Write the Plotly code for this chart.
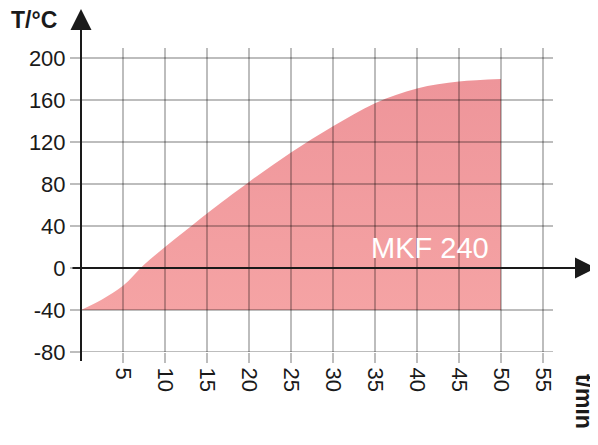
import plotly.graph_objects as go

# heating curve
time_min = [0, 2.5, 5, 7.5, 10, 12.5, 15, 20, 25, 30, 35, 40, 45, 50]
temp_c = [-40, -30, -17, 3, 20, 36, 52, 82, 110, 135, 157, 171, 177.5, 180]
base_c = [-40] * len(time_min)

x_ticks = [5, 10, 15, 20, 25, 30, 35, 40, 45, 50, 55]
y_ticks = [-80, -40, 0, 40, 80, 120, 160, 200]
y_labels = ["-80", "-40", "0", "40", "80", "120", "160", "200"]
label = "MKF 240"

font = "Liberation Sans, Arial, sans-serif"
ink = "#1a1a1a"

fig = go.Figure()
fig.add_trace(go.Scatter(x=time_min, y=base_c, mode="lines",
                         line=dict(width=0), hoverinfo="skip"))
fig.add_trace(go.Scatter(
    x=time_min, y=temp_c, mode="lines", line=dict(width=0, shape="spline"),
    fill="tonexty",
    fillgradient=dict(type="vertical",
                      colorscale=[[0, "#f5a3a4"], [1, "#ee959a"]]),
))

# grid drawn on top so it darkens inside the filled area
grid = "rgba(0,0,0,0.26)"
for t in x_ticks:
    fig.add_shape(type="line", xref="x", yref="paper", x0=t, x1=t, y0=0, y1=1,
                  line=dict(color=grid, width=2), layer="above")
for v in y_ticks:
    fig.add_shape(type="line", xref="paper", yref="y", x0=0, x1=1, y0=v, y1=v,
                  line=dict(color=grid, width=2), layer="above")

# axes with arrows
fig.add_annotation(x=1.0911, y=0, xref="paper", yref="y", ax=-525, ay=0,
                   text="", showarrow=True, arrowhead=2, arrowsize=2.1,
                   arrowwidth=2, arrowcolor=ink)
fig.add_annotation(x=0, y=1.13, xref="paper", yref="paper", ax=0, ay=354,
                   text="", showarrow=True, arrowhead=2, arrowsize=2.1,
                   arrowwidth=2, arrowcolor=ink)

fig.add_annotation(x=-0.0466, y=1.092, xref="paper", yref="paper",
                   text="<b>T/°C</b>", showarrow=False,
                   xanchor="right", yanchor="middle",
                   font=dict(size=23, color=ink, family=font))
fig.add_annotation(x=1.0657, y=-0.161, xref="paper", yref="paper",
                   text="<b>t/min</b>", showarrow=False, textangle=90,
                   xanchor="center", yanchor="middle",
                   font=dict(size=23, color=ink, family=font))
fig.add_annotation(x=41.5, y=19, text=label, showarrow=False,
                   font=dict(size=29, color="white", family=font))

# page body has an 8px margin, so the figure is shrunk to fit the window
fig.update_layout(
    width=590, height=437,
    margin=dict(l=73, r=45, t=40, b=93, autoexpand=False),
    plot_bgcolor="white", paper_bgcolor="white",
    showlegend=False,
    font=dict(family=font, size=22, color=ink),
)
fig.update_xaxes(range=[0, 56.19], tickvals=x_ticks, tickangle=90,
                 showgrid=False, zeroline=False, showline=False,
                 ticks="outside", ticklen=10, tickwidth=2, tickcolor="#bdbdbd")
fig.update_yaxes(range=[-80, 209.5], tickvals=y_ticks, ticktext=y_labels,
                 showgrid=False, zeroline=False, showline=False,
                 ticks="outside", ticklen=10, tickwidth=2, tickcolor="#bdbdbd")

fig.write_html("out.html")
